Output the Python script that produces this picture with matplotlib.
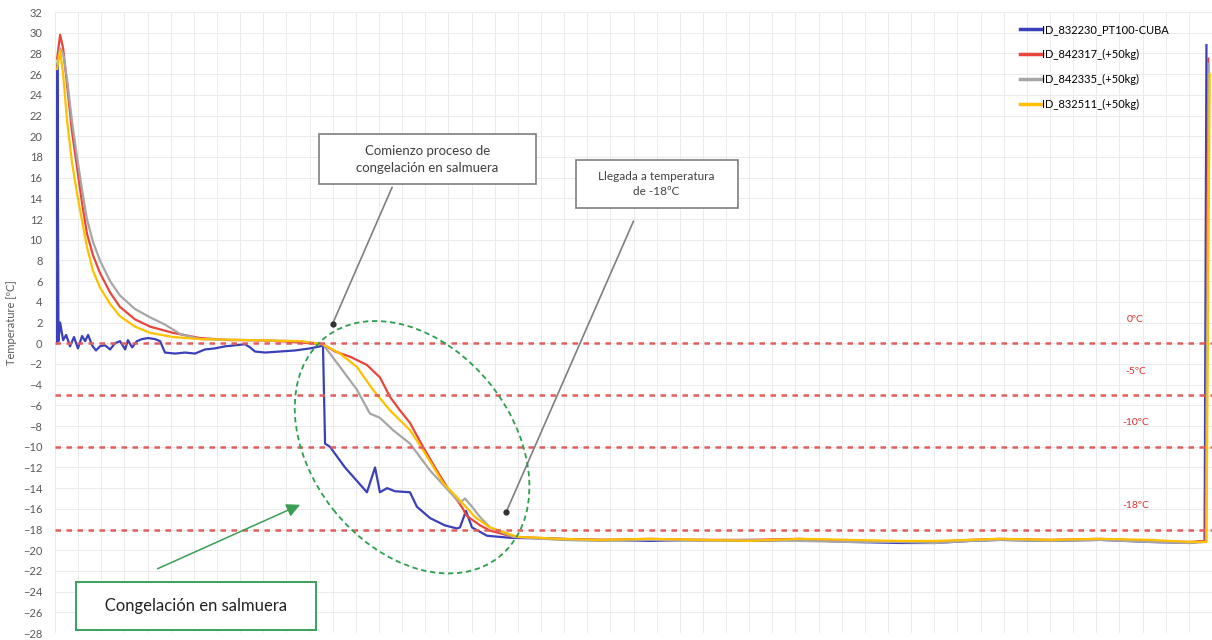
import numpy as np
import matplotlib.pyplot as plt
from matplotlib.patches import Ellipse
from matplotlib.transforms import ScaledTranslation
from matplotlib.ticker import MultipleLocator

plt.rcParams['font.family'] = ['Lato', 'DejaVu Sans']

# Series (x = elapsed time, arbitrary hours; y = temperature in ºC)
names = ["ID_832230_PT100-CUBA", "ID_842317_(+50kg)", "ID_842335_(+50kg)", "ID_832511_(+50kg)"]
colors = ["#3b40b8", "#e8453c", "#a6a6a6", "#ffc000"]

x_blue = [0.09, 0.10, 0.15, 0.22, 0.35, 0.48, 0.65, 0.82, 0.99, 1.17, 1.30, 1.43, 1.60, 1.77, 1.94,
          2.16, 2.38, 2.59, 2.81, 3.03, 3.15, 3.33, 3.54, 3.76, 4.02, 4.32, 4.54, 4.75, 5.19, 5.62,
          6.05, 6.48, 6.91, 7.35, 7.78, 8.21, 8.43, 8.64, 9.08, 9.72, 10.37, 11.02, 11.45, 11.58,
          11.67, 11.88, 12.53, 13.48, 13.83, 14.04, 14.35, 14.69, 15.34, 15.64, 16.21, 16.85, 17.37,
          17.50, 17.76, 18.02, 18.67, 19.66, 21.82, 23.55, 25.71, 27.87, 30.03, 32.19, 34.36, 36.52,
          38.03, 39.54, 40.84, 43.00, 45.16, 47.32, 49.05, 49.68, 49.76]
y_blue = [0.0, 27.0, 0.2, 2.0, 0.3, 0.8, -0.3, 0.6, -0.5, 0.7, 0.2, 0.8, -0.2, -0.7, -0.3,
          -0.2, -0.6, 0.0, 0.2, -0.6, 0.3, -0.4, 0.2, 0.4, 0.5, 0.4, 0.2, -0.9, -1.0, -0.9,
          -1.0, -0.6, -0.5, -0.3, -0.2, -0.1, -0.4, -0.8, -0.9, -0.8, -0.7, -0.5, -0.3, -0.2,
          -9.7, -10.0, -12.0, -14.4, -12.0, -14.4, -14.0, -14.3, -14.4, -15.8, -16.9, -17.6, -17.9,
          -17.8, -16.2, -17.8, -18.6, -18.8, -18.9, -19.0, -19.1, -19.0, -19.1, -19.0, -19.2, -19.3,
          -19.3, -19.1, -19.0, -19.1, -19.0, -19.2, -19.3, -19.1, 28.8]

x_red = [0.09, 0.22, 0.35, 0.52, 0.73, 0.95, 1.17, 1.38, 1.64, 1.94, 2.38, 2.81, 3.46, 4.11, 5.10,
         6.27, 7.56, 8.43, 9.72, 11.02, 11.58, 12.10, 12.75, 13.48, 14.04, 14.48, 14.91, 15.34, 15.90,
         16.42, 16.94, 17.42, 17.63, 17.76, 17.93, 18.37, 18.80, 19.79, 21.82, 23.55, 25.71, 27.87,
         30.03, 32.19, 34.36, 36.52, 38.03, 39.54, 40.84, 43.00, 45.16, 47.32, 49.05, 49.72, 49.84]
y_red = [27.5, 29.8, 28.5, 25.0, 20.5, 17.0, 13.5, 10.6, 8.5, 6.8, 4.9, 3.5, 2.3, 1.6, 1.0,
         0.5, 0.3, 0.3, 0.2, 0.0, -0.1, -0.8, -1.3, -2.1, -3.3, -5.2, -6.5, -7.7, -10.0,
         -12.0, -13.9, -15.3, -16.0, -16.6, -16.9, -17.6, -18.1, -18.7, -18.9, -19.0, -18.9, -19.0,
         -19.0, -18.9, -19.1, -19.2, -19.2, -19.0, -18.9, -19.0, -18.9, -19.1, -19.2, -19.1, 27.5]

x_gray = [0.09, 0.22, 0.35, 0.52, 0.73, 0.95, 1.17, 1.38, 1.64, 1.94, 2.38, 2.81, 3.46, 4.11, 4.75,
          5.40, 6.27, 8.43, 10.59, 11.58, 12.32, 13.05, 13.61, 14.04, 14.61, 15.34, 16.21, 17.07,
          17.50, 17.72, 18.02, 18.37, 18.80, 19.79, 21.82, 23.55, 25.71, 27.87, 30.03, 32.19, 34.36,
          36.52, 38.03, 39.54, 40.84, 43.00, 45.16, 47.32, 49.05, 49.74, 49.86]
y_gray = [27.0, 28.5, 28.0, 25.5, 21.5, 18.0, 14.8, 12.0, 9.8, 8.0, 6.0, 4.6, 3.3, 2.5, 1.8,
          0.9, 0.4, 0.3, 0.2, -0.1, -2.3, -4.5, -6.8, -7.2, -8.4, -9.7, -12.3, -14.4,
          -15.4, -15.0, -15.8, -16.8, -17.8, -18.7, -19.0, -19.1, -19.0, -19.1, -19.0, -19.1, -19.2,
          -19.2, -19.3, -19.1, -19.0, -19.1, -19.0, -19.2, -19.3, -19.2, 27.0]

x_yellow = [0.09, 0.22, 0.35, 0.52, 0.73, 0.95, 1.17, 1.38, 1.64, 1.94, 2.38, 2.81, 3.46, 4.11, 5.10,
            6.27, 8.43, 10.59, 11.58, 12.32, 13.05, 13.74, 14.48, 15.34, 15.90, 16.77, 17.63, 18.15,
            18.80, 19.97, 21.82, 23.55, 25.71, 27.87, 30.03, 32.19, 34.36, 36.52, 38.03, 39.54,
            40.84, 43.00, 45.16, 47.32, 49.05, 49.76, 49.90]
y_yellow = [26.5, 28.3, 26.0, 21.5, 17.5, 14.5, 11.8, 9.3, 7.0, 5.4, 3.8, 2.6, 1.6, 1.0, 0.6,
            0.4, 0.3, 0.2, -0.1, -1.0, -2.3, -4.5, -6.5, -8.4, -10.3, -13.5, -15.5, -16.8,
            -17.8, -18.7, -18.9, -19.0, -18.9, -19.0, -19.1, -18.9, -19.0, -19.1, -19.1, -19.0,
            -18.9, -19.0, -18.9, -19.0, -19.2, -19.2, 26.0]

# reference temperature levels
ref_levels = [0, -5, -10, -18]
ref_labels = ["0ºC", "-5ºC", "-10ºC", "-18ºC"]

fig = plt.figure(figsize=(12.12, 6.4), dpi=100)
ax = fig.add_axes([0.0454, 0.0109, 0.9546, 0.9703])

series = [(x_blue, y_blue), (x_red, y_red), (x_gray, y_gray), (x_yellow, y_yellow)]
for (xs, ys), name, col in zip(series, names, colors):
    ax.plot(xs, ys, color=col, lw=1.6, label=name, zorder=2)

for lvl, lab in zip(ref_levels, ref_labels):
    ax.axhline(lvl, color="#e35d5d", lw=1.8, ls=(0, (2.2, 2.2)), zorder=3)
    ax.text(46.7, lvl + 2.3, lab, color="#e0302f", fontsize=7.5, ha="center", va="center")

ax.set_xlim(0, 50)
ax.set_ylim(-28, 32)
ax.xaxis.set_major_locator(MultipleLocator(1))
ax.yaxis.set_major_locator(MultipleLocator(2))
ax.grid(True, color="#ebebeb", lw=0.7, zorder=0)
ax.set_axisbelow(True)
ax.tick_params(axis="x", length=0, labelbottom=False)
ax.tick_params(axis="y", length=0, pad=9, labelsize=8, labelcolor="#595959")
for s in ax.spines.values():
    s.set_visible(False)
ax.set_ylabel("Temperature [ºC]", fontsize=8, color="#595959")
ax.yaxis.set_label_coords(-0.033, 0.5)

leg = ax.legend(loc="upper left", bbox_to_anchor=(0.825, 0.997), frameon=False, fontsize=8,
                handlelength=2.0, handletextpad=0.0, labelspacing=1.25)
for line in leg.get_lines():
    line.set_linewidth(2.5)

# annotations
ax.annotate("Comienzo proceso de\n        congelación en salmuera        ", xy=(12.0, 1.9),
            xytext=(16.1, 17.8), fontsize=9.5, color="#404040", ha="center", va="center",
            multialignment="center", linespacing=1.5,
            bbox=dict(boxstyle="square,pad=0.8", fc="white", ec="#7f7f7f", lw=1.2),
            arrowprops=dict(arrowstyle="-", color="#7f7f7f", lw=1.2, relpos=(0.35, 0), shrinkB=0))
ax.plot(12.0, 1.9, "o", color="#333333", ms=3.5, zorder=4)

ax.annotate("    Llegada a temperatura    \nde -18ºC", xy=(19.5, -16.3), xytext=(26.0, 15.4),
            fontsize=8.5, color="#404040", ha="center", va="center", multialignment="center",
            linespacing=1.5,
            bbox=dict(boxstyle="square,pad=0.9", fc="white", ec="#7f7f7f", lw=1.2),
            arrowprops=dict(arrowstyle="-", color="#7f7f7f", lw=1.2, relpos=(0.41, 0),
                            shrinkA=10, shrinkB=0))
ax.plot(19.5, -16.3, "o", color="#333333", ms=3.5, zorder=4)

ell = Ellipse((0, 0), width=2.8, height=2.01, angle=-51.6, fill=False, ec="#2e9e4e", lw=1.3,
              ls=(0, (3, 2)), zorder=4,
              transform=fig.dpi_scale_trans + ScaledTranslation(15.43, -10.05, ax.transData))
ax.add_patch(ell)

ax.annotate("", xy=(10.7, -15.5), xytext=(4.32, -21.9),
            arrowprops=dict(arrowstyle="-|>,head_length=0.8,head_width=0.4", color="#3a9e55", lw=1.1))
ax.text(6.09, -25.4, "   Congelación en salmuera   ", fontsize=12, color="#222222",
        ha="center", va="center",
        bbox=dict(boxstyle="square,pad=0.95", fc="white", ec="#3aa05a", lw=1.4))

fig.savefig("out.png", dpi=100)
